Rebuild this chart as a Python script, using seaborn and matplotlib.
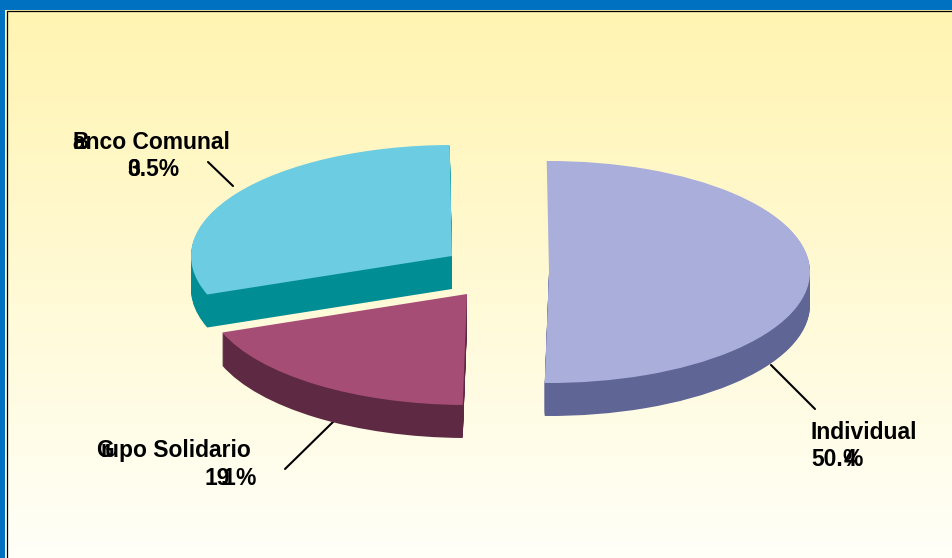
import numpy as np
import matplotlib
matplotlib.use("Agg")
import matplotlib.pyplot as plt
import seaborn as sns

categories = ["Individual", "Grupo Solidario", "Banco Comunal"]
shares = [50.4, 19.1, 30.5]
top_colors = ["#AAAEDB", "#A64D76", "#6CCCE2"]
side_colors = ["#5F6595", "#5E2A43", "#008E94"]

sns.set_theme(style="white")
plt.rcParams['font.family'] = ['Liberation Sans', 'DejaVu Sans']

W, H = 952, 558
RX, RY = 261, 111
DEPTH = 33

# pixel position of each slice's apex (the pie is exploded)
apex = [(549, 272), (467, 294), (452, 256)]

fig = plt.figure(figsize=(W / 100, H / 100), dpi=100)

# background + frame + labels, in pixel coords
bg = fig.add_axes([0, 0, 1, 1])
bg.set_xlim(0, W)
bg.set_ylim(H, 0)
bg.axis("off")
t = np.linspace(0, 1, 256)[:, None, None]
grad = (1 - t) * np.array([255, 244, 176]) / 255 + t * np.array([255, 255, 248]) / 255
bg.imshow(grad, extent=[0, W, H, 0], aspect="auto", zorder=0)
bg.axhspan(0, 10, color="#0070C0", lw=0, zorder=1)
bg.axvspan(0, 5, color="#0070C0", lw=0, zorder=1)
bg.plot([6.5, 6.5, W], [H, 10.5, 10.5], color="black", lw=0.9, zorder=2, solid_joinstyle="miter")

# pie, in units of the x radius / y radius so that it squashes to an ellipse
ax = fig.add_axes([0, 0, 1, 1])
ax.patch.set_alpha(0)
total = sum(shares)
start = 90.5
for i, share in enumerate(shares):
    cx = apex[i][0] / RX
    cy = (H - apex[i][1]) / RY
    # walls are a stack of the same slice shifted down; start a bit late so no sliver shows at the back
    wall_share = share - max(start - 90, 0) / 360 * total
    wall_start = min(start, 90)
    for d in range(DEPTH, 0, -1):
        ax.pie([wall_share, total - wall_share], startangle=wall_start, counterclock=False, radius=1,
               center=(cx, cy - d / RY), colors=[side_colors[i], "none"],
               wedgeprops=dict(linewidth=0))
    ax.pie([share, total - share], startangle=start, counterclock=False, radius=1,
           center=(cx, cy), colors=[top_colors[i], "none"], wedgeprops=dict(linewidth=0))
    start -= share / total * 360
ax.set_aspect("auto")
ax.set_xlim(0, W / RX)
ax.set_ylim(0, H / RY)
ax.axis("off")

# leader lines
for xs, ys in [((208, 233), (162, 186)), ((285, 334), (469, 421)), ((771, 815), (365, 409))]:
    bg.plot(xs, ys, color="black", lw=1.5, zorder=3)

# the label text in the source has glyphs printed over each other, split to reproduce that
def label(x, y, s):
    bg.text(x, y, s, fontsize=16.5, fontweight="bold", color="black", ha="left", va="baseline", zorder=4)

pct = [f"{s:.1f}%" for s in shares]
label(72, 149, categories[2][:1])
label(73, 149, categories[2][1:])
label(127, 176, pct[2][:1])
label(127, 176, pct[2][1:])
label(96, 457, categories[1][:1])
label(100, 457, categories[1][1:2])
label(105, 457, categories[1][2:])
label(204, 485, pct[1][:2])
label(221, 485, pct[1][2:3])
label(223, 485, pct[1][3:4])
label(235, 485, pct[1][4:])
label(811, 439, categories[0])
label(811, 466, pct[0][:3])
label(844, 466, pct[0][3:4])
label(842, 466, pct[0][4:])

fig.savefig("out.png", dpi=100)
